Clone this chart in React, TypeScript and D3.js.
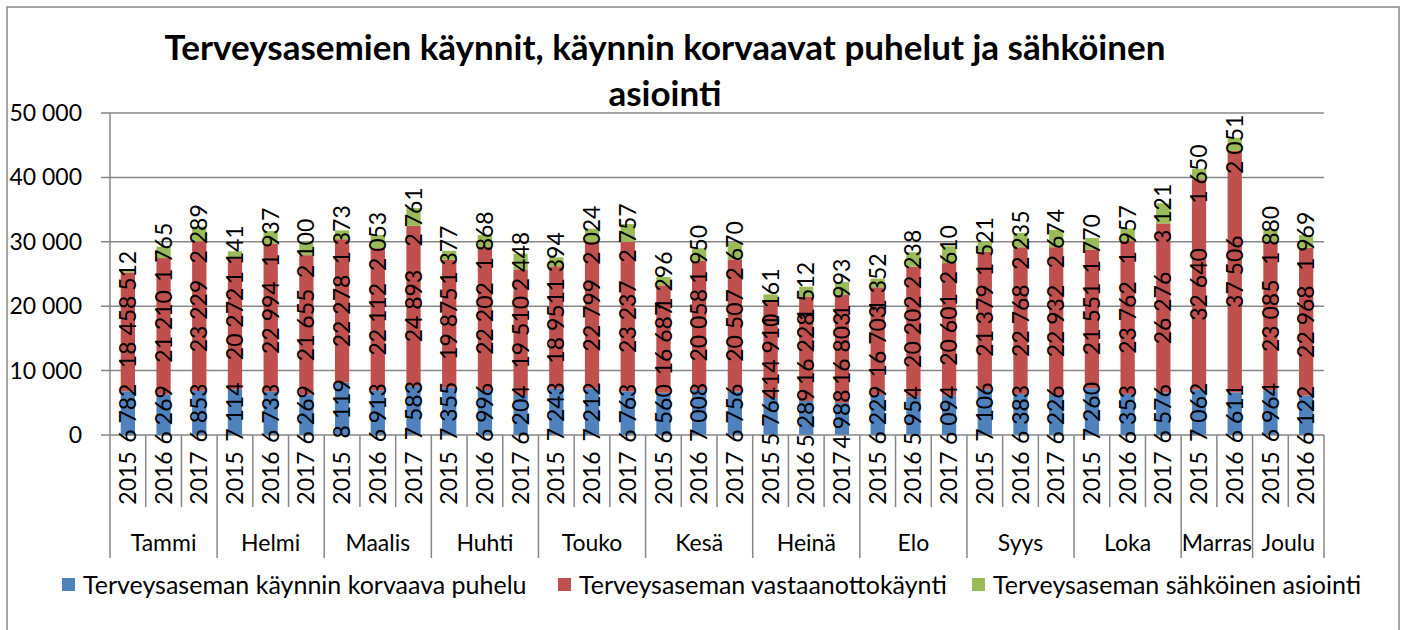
import React from "react";
import * as d3 from "d3";

const title1 = "Terveysasemien käynnit, käynnin korvaavat puhelut ja sähköinen";
const title2 = "asiointi";

const monthNames = ["Tammi", "Helmi", "Maalis", "Huhti", "Touko", "Kesä", "Heinä", "Elo", "Syys", "Loka", "Marras", "Joulu"];
const monthYears = [
  ["2015", "2016", "2017"], ["2015", "2016", "2017"], ["2015", "2016", "2017"], ["2015", "2016", "2017"],
  ["2015", "2016", "2017"], ["2015", "2016", "2017"], ["2015", "2016", "2017"], ["2015", "2016", "2017"],
  ["2015", "2016", "2017"], ["2015", "2016", "2017"], ["2015", "2016"], ["2015", "2016"],
];

const puhelu = [6782, 6269, 6853, 7114, 6733, 6269, 8119, 6913, 7583, 7355, 6996, 6204, 7243, 7212, 6763, 6560, 7008, 6756, 5764, 5289, 4988, 6229, 5954, 6094, 7106, 6383, 6226, 7260, 6353, 6576, 7062, 6611, 6964, 6122];
const vastaanotto = [18458, 21210, 23229, 20272, 22994, 21655, 22278, 22112, 24893, 19875, 22202, 19510, 18951, 22799, 23237, 16687, 20058, 20507, 14910, 16228, 16803, 16703, 20202, 20601, 21379, 22768, 22932, 21551, 23762, 26276, 32640, 37506, 23085, 22968];
const sahkoinen = [512, 1765, 2289, 1141, 1937, 2100, 1373, 2053, 2761, 1377, 1868, 2448, 1394, 2024, 2757, 1296, 1950, 2670, 1161, 1512, 1993, 1352, 2238, 2610, 1521, 2235, 2674, 1770, 1957, 3121, 1650, 2051, 1880, 1969];

const seriesNames = ["Terveysaseman käynnin korvaava puhelu", "Terveysaseman vastaanottokäynti", "Terveysaseman sähköinen asiointi"];
const seriesColors = ["#4F81BD", "#C0504D", "#9BBB59"];
const yTicks = [0, 10000, 20000, 30000, 40000, 50000];

const FONT = "Lato, 'Liberation Sans', sans-serif";
const W = 1405, H = 630;
const left = 110, right = 1324, top = 113, bottom = 435;

const fmt = (v: number) => d3.format(",")(v).replace(/,/g, " ");

export default function App() {
  const cats: { month: number; year: string; key: string }[] = [];
  monthYears.forEach((ys, mi) => ys.forEach((y) => cats.push({ month: mi, year: y, key: `${mi}-${y}` })));
  const x = d3.scaleBand<string>().domain(cats.map((c) => c.key)).range([left, right]).paddingInner(0.6).paddingOuter(0.3);
  const step = x.step();
  const y = d3.scaleLinear().domain([0, 50000]).range([bottom, top]);

  const rows = cats.map((c, i) => ({ key: c.key, s0: puhelu[i], s1: vastaanotto[i], s2: sahkoinen[i] }));
  const stack = d3.stack<any>().keys(["s0", "s1", "s2"])(rows);

  const bounds = cats.map((c) => (x(c.key) as number) - (step - x.bandwidth()) / 2);
  bounds.push(right);
  const monthStart: number[] = [];
  let idx = 0;
  monthYears.forEach((ys) => {
    monthStart.push(idx);
    idx += ys.length;
  });

  return (
    <svg width={W} height={H} style={{ position: "absolute", left: 0, top: 0, background: "#fff" }} fontFamily={FONT}>
      <rect x={7} y={7} width={1392} height={640} fill="#fff" stroke="#868686" strokeWidth={1.5} />
      <text x={665} y={60} textAnchor="middle" fontSize={35} fontWeight="bold" fill="#000">{title1}</text>
      <text x={665} y={106} textAnchor="middle" fontSize={35} fontWeight="bold" fill="#000">{title2}</text>

      {yTicks.map((t) => (
        <g key={t}>
          <line x1={101} x2={t === 0 ? left : right} y1={y(t)} y2={y(t)} stroke="#868686" strokeWidth={1.5} />
          <text x={82} y={y(t)} dy="0.35em" textAnchor="end" fontSize={23} fill="#000">{fmt(t)}</text>
        </g>
      ))}

      {stack.map((s, si) =>
        s.map((d, i) => (
          <rect key={`${si}-${i}`} x={x(cats[i].key)} y={y(d[1])} width={x.bandwidth()} height={y(d[0]) - y(d[1])} fill={seriesColors[si]} />
        ))
      )}

      <line x1={left} x2={left} y1={top} y2={bottom} stroke="#868686" strokeWidth={1.5} />
      <line x1={left} x2={right} y1={bottom} y2={bottom} stroke="#868686" strokeWidth={1.5} />

      {stack.map((s, si) =>
        s.map((d, i) => {
          const cx = (x(cats[i].key) as number) + x.bandwidth() / 2;
          const cy = (y(d[0]) + y(d[1])) / 2;
          return (
            <text key={`l${si}-${i}`} transform={`translate(${cx},${cy}) rotate(-90)`} textAnchor="middle" dy="0.35em" fontSize={23} fill="#000">
              {fmt(d[1] - d[0])}
            </text>
          );
        })
      )}

      {bounds.map((bx, i) => {
        const isMonth = monthStart.includes(i) || i === bounds.length - 1;
        return <line key={`b${i}`} x1={bx} x2={bx} y1={bottom} y2={isMonth ? 558 : 507} stroke="#868686" strokeWidth={1.5} />;
      })}

      {cats.map((c) => {
        const cx = (x(c.key) as number) + x.bandwidth() / 2;
        return (
          <text key={`y${c.key}`} transform={`translate(${cx},${478}) rotate(-90)`} textAnchor="middle" dy="0.35em" fontSize={23} fill="#000">
            {c.year}
          </text>
        );
      })}

      {monthNames.map((m, mi) => {
        const a = bounds[monthStart[mi]];
        const b = bounds[monthStart[mi] + monthYears[mi].length];
        return (
          <text key={m} x={(a + b) / 2} y={543} dy="0.35em" textAnchor="middle" fontSize={23} fill="#000">{m}</text>
        );
      })}

      {seriesNames.map((n, i) => {
        const lx = [62, 558, 972][i];
        return (
          <g key={n}>
            <rect x={lx} y={578} width={13} height={13} fill={seriesColors[i]} />
            <text x={lx + 21} y={585} dy="0.35em" fontSize={25} fill="#000">{n}</text>
          </g>
        );
      })}
    </svg>
  );
}
